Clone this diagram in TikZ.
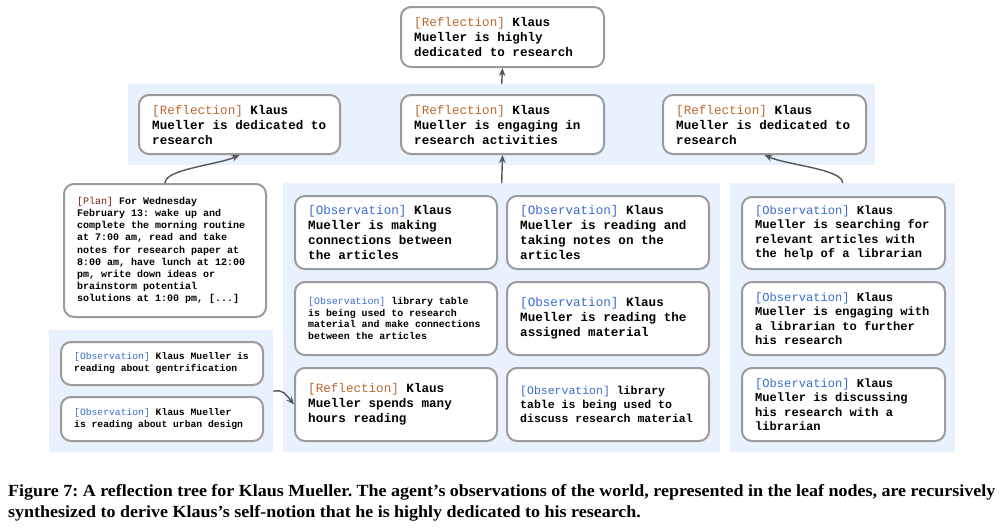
\documentclass[tikz,border=0pt]{standalone}
\usepackage{fontspec}
\setmainfont{Liberation Serif}
\newfontfamily\monofam{Liberation Mono}
\usetikzlibrary{arrows.meta}
\definecolor{panelblue}{HTML}{E8F1FD}
\definecolor{boxline}{HTML}{9B9B9B}
\definecolor{reflc}{HTML}{B86A30}
\definecolor{obsc}{HTML}{3A6BD0}
\definecolor{planc}{HTML}{7A1F1A}
\definecolor{arrc}{HTML}{555555}
\newcommand\tgR{{\mdseries\color{reflc}[Reflection]}}
\newcommand\tgO{{\mdseries\color{obsc}[Observation]}}
\newcommand\tgP{{\mdseries\color{planc}[Plan]}}
\newcommand\fbig{\monofam\bfseries\fontsize{12.6}{15}\selectfont}
\newcommand\fmid{\monofam\bfseries\fontsize{12.1}{14.5}\selectfont}
\newcommand\fmed{\monofam\bfseries\fontsize{11.5}{14}\selectfont}
\newcommand\fplan{\monofam\bfseries\fontsize{10}{12.2}\selectfont}
\newcommand\fsmall{\monofam\bfseries\fontsize{9.9}{11.8}\selectfont}
\newcommand\ftiny{\monofam\bfseries\fontsize{9.7}{12}\selectfont}
\newcommand\capfont{\bfseries\fontsize{17}{21}\selectfont}
\newcommand\capone{Figure 7: A reflection tree for Klaus Mueller. The agent’s observations of the world, represented in the leaf nodes, are recursively}
\newcommand\captwo{synthesized to derive Klaus’s self-notion that he is highly dedicated to his research.}
\newlength\caplen
% name, x1, y1, x2, y2, font, content
\newcommand\mkbox[7]{%
  \node[box, anchor=north west, minimum width={#4-#2}, minimum height={#5-#3}] (#1) at (#2,#3) {};
  \node[txt, font=#6] (#1t) at ([xshift=14pt]#1.west) {#7};}
\newcommand\mkpanel[5]{%
  \node[pan, anchor=north west, minimum width={#4-#2}, minimum height={#5-#3}] (#1) at (#2,#3) {};}
\frenchspacing
\begin{document}
\frenchspacing
\settowidth\caplen{\capfont\capone}%
\pgfmathsetmacro\capsc{987/\caplen}%
\begin{tikzpicture}[x=1pt,y=-1pt,
  box/.style={draw=boxline, line width=2pt, rounded corners=10pt, fill=white, inner sep=0pt},
  pan/.style={fill=panelblue, inner sep=0pt},
  txt/.style={anchor=west, align=left, inner sep=0pt},
  arrow/.style={draw=arrc, line width=1.4pt, -{Stealth[length=8pt,width=6.5pt]}}]
\useasboundingbox (0,0) rectangle (1002,530);
% panels
\mkpanel{band}{128}{84}{875}{165}
\mkpanel{mid}{283}{183}{720}{452}
\mkpanel{rp}{730}{183}{955}{452}
\mkpanel{bl}{49}{330}{273}{452}
% top
\mkbox{top}{400}{6}{603}{66}{\fbig}{\tgR{} Klaus\\Mueller is highly\\dedicated to research}
% row 2
\mkbox{rl}{138}{94}{339}{153}{\fbig}{\tgR{} Klaus\\Mueller is dedicated to\\research}
\mkbox{rm}{400}{94}{603}{153}{\fbig}{\tgR{} Klaus\\Mueller is engaging in\\research activities}
\mkbox{rr}{662}{94}{865}{153}{\fbig}{\tgR{} Klaus\\Mueller is dedicated to\\research}
% plan
\mkbox{plan}{63}{183}{265}{316}{\fplan}{\tgP{} For Wednesday\\February 13: wake up and\\complete the morning routine\\at 7:00 am, read and take\\notes for research paper at\\8:00 am, have lunch at 12:00\\pm, write down ideas or\\brainstorm potential\\solutions at 1:00 pm, [...]}
% middle panel
\mkbox{a1}{294}{195}{496}{268}{\fbig}{\tgO{} Klaus\\Mueller is making\\connections between\\the articles}
\mkbox{a2}{294}{281}{496}{354}{\fsmall}{\tgO{} library table\\is being used to research\\material and make connections\\between the articles}
\mkbox{a3}{294}{367}{496}{440}{\fbig}{\tgR{} Klaus\\Mueller spends many\\hours reading}
\mkbox{b1}{506}{195}{708}{268}{\fbig}{\tgO{} Klaus\\Mueller is reading and\\taking notes on the\\articles}
\mkbox{b2}{506}{281}{708}{354}{\fbig}{\tgO{} Klaus\\Mueller is reading the\\assigned material}
\mkbox{b3}{506}{367}{708}{440}{\fmed}{\tgO{} library\\table is being used to\\discuss research material}
% right panel
\mkbox{c1}{741}{196}{944}{268}{\fmid}{\tgO{} Klaus\\Mueller is searching for\\relevant articles with\\the help of a librarian}
\mkbox{c2}{741}{281}{944}{354}{\fmid}{\tgO{} Klaus\\Mueller is engaging with\\a librarian to further\\his research}
\mkbox{c3}{741}{367}{944}{440}{\fmid}{\tgO{} Klaus\\Mueller is discussing\\his research with a\\librarian}
% bottom-left panel
\mkbox{d1}{60}{341}{262}{384}{\ftiny}{\tgO{} Klaus Mueller is\\reading about gentrification}
\mkbox{d2}{60}{396}{262}{440}{\ftiny}{\tgO{} Klaus Mueller\\is reading about urban design}
% arrows
\draw[arrow] (band.north) -- (top.south);
\draw[arrow] (mid.north) -- (rm.south);
\draw[arrow] (plan.north) .. controls +(0,-14) and +(-22,10) .. (rl.south);
\draw[arrow] (rp.north) .. controls +(0,-14) and +(22,10) .. (rr.south);
\draw[arrow] (bl.east) .. controls +(10,-2) and +(-8,-10) .. (a3.west);
% caption
\node[anchor=base west, inner sep=0pt, font=\capfont] (cap1) at (8,496) {\scalebox{\capsc}[1]{\capone}};
\node[anchor=base west, inner sep=0pt, font=\capfont] (cap2) at (8,517) {\scalebox{\capsc}[1]{\captwo}};
\end{tikzpicture}
\end{document}
